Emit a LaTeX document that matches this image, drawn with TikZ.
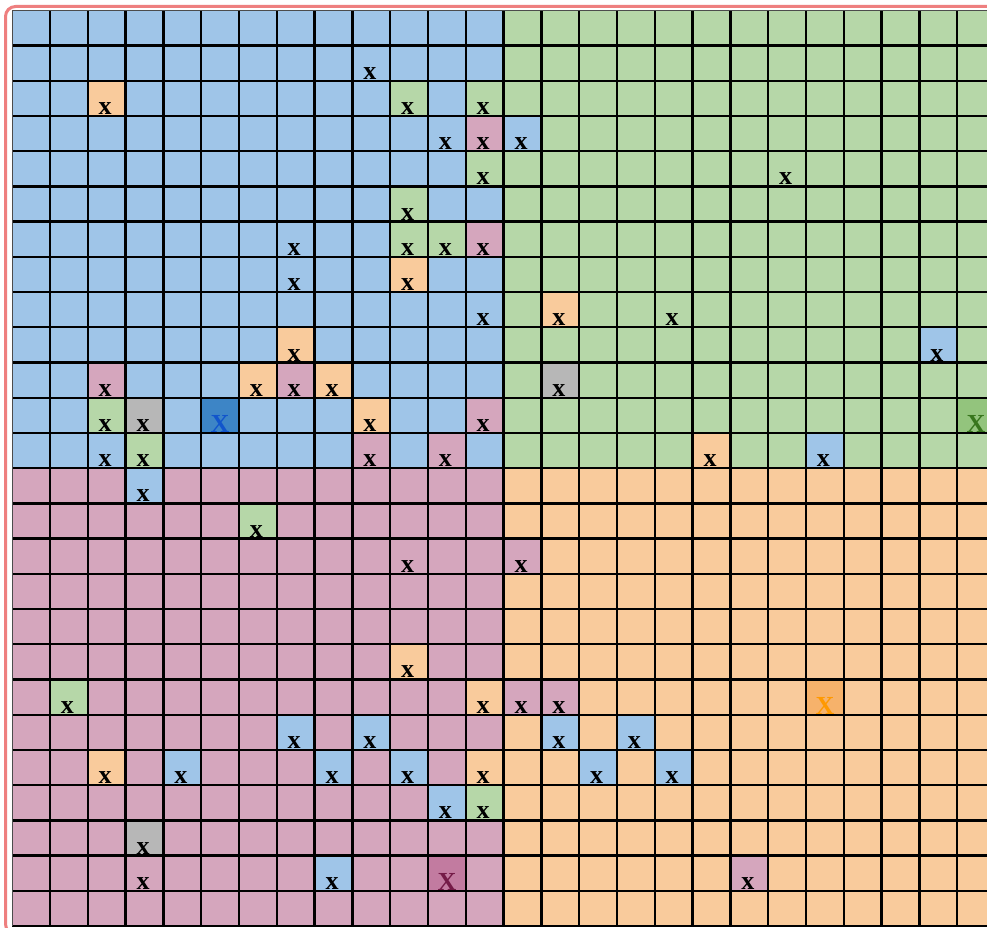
\documentclass[tikz,border=0pt]{standalone}
\usepackage{fontspec}
\newfontfamily\markfont{Liberation Serif}
\definecolor{qblue}{HTML}{9FC5E8}
\definecolor{qgreen}{HTML}{B6D7A8}
\definecolor{qpink}{HTML}{D5A6BD}
\definecolor{qorange}{HTML}{F9CB9C}
\definecolor{qgray}{HTML}{B7B7B7}
\definecolor{dblue}{HTML}{3D85C6}
\definecolor{dgreen}{HTML}{93C47D}
\definecolor{dpink}{HTML}{C27BA0}
\definecolor{dorange}{HTML}{F6B26B}
\definecolor{xblue}{HTML}{1155CC}
\definecolor{xgreen}{HTML}{38761D}
\definecolor{xpink}{HTML}{741B47}
\definecolor{xorange}{HTML}{FF9900}
\definecolor{redb}{HTML}{EE7F7F}
\newcommand{\cx}[1]{12.2+37.8*(#1)}
\newcommand{\cy}[1]{10.3+35.22*(#1)}
\begin{document}
\begin{tikzpicture}[x=1pt,y=-1pt,
  gridline/.style={black, line width=2.3},
  edgeline/.style={black!70, line width=1},
  xmark/.style={anchor=base, inner sep=0pt, font=\markfont\bfseries\fontsize{26}{26}\selectfont},
  bigmark/.style={anchor=base, inner sep=0pt, font=\markfont\bfseries\fontsize{26}{26}\selectfont}]
\useasboundingbox (0,0) rectangle (987,928);
\clip (0,0) rectangle (987,928);
\fill[white] (0,0) rectangle (987,928);
% quadrants
\fill[qblue]   ({\cx{0}},{\cy{0}}) rectangle ({\cx{13}},{\cy{13}});
\fill[qgreen]  ({\cx{13}},{\cy{0}}) rectangle ({\cx{26}},{\cy{13}});
\fill[qpink]   ({\cx{0}},{\cy{13}}) rectangle ({\cx{13}},{\cy{26}});
\fill[qorange] ({\cx{13}},{\cy{13}}) rectangle ({\cx{26}},{\cy{26}});
% coloured cells
\foreach \c/\r/\col in {
  2/2/qorange, 10/7/qorange, 14/8/qorange, 7/9/qorange, 6/10/qorange, 8/10/qorange,
  9/11/qorange, 18/12/qorange, 10/18/qorange, 12/19/qorange, 2/21/qorange, 12/21/qorange,
  10/2/qgreen, 12/2/qgreen, 12/4/qgreen, 10/5/qgreen, 10/6/qgreen, 11/6/qgreen,
  2/11/qgreen, 3/12/qgreen, 6/14/qgreen, 1/19/qgreen, 12/22/qgreen,
  12/3/qpink, 12/6/qpink, 2/10/qpink, 7/10/qpink, 12/11/qpink, 9/12/qpink,
  11/12/qpink, 13/15/qpink, 13/19/qpink, 14/19/qpink, 19/24/qpink,
  13/3/qblue, 24/9/qblue, 21/12/qblue, 3/13/qblue, 7/20/qblue, 9/20/qblue,
  14/20/qblue, 16/20/qblue, 4/21/qblue, 8/21/qblue, 10/21/qblue, 15/21/qblue,
  17/21/qblue, 11/22/qblue, 8/24/qblue,
  14/10/qgray, 3/11/qgray, 3/23/qgray,
  5/11/dblue, 25/11/dgreen, 21/19/dorange, 11/24/dpink}
  \fill[\col] ({\cx{\c}},{\cy{\r}}) rectangle ({\cx{\c+1}},{\cy{\r+1}});
% grid lines
\foreach \k in {1,...,25}
  \draw[gridline] ({\cx{\k}},{\cy{0}}) -- ({\cx{\k}},{\cy{26}});
\foreach \k in {1,...,26}
  \draw[gridline] ({\cx{0}},{\cy{\k}}) -- ({\cx{26}},{\cy{\k}});
\draw[edgeline] ({\cx{0}},{\cy{26}}) -- ({\cx{0}},{\cy{0}}) -- ({\cx{26}},{\cy{0}});
% small marks
\foreach \c/\r [count=\i] in {
  9/1, 2/2, 10/2, 12/2, 11/3, 12/3, 13/3, 12/4, 20/4, 10/5,
  7/6, 10/6, 11/6, 12/6, 7/7, 10/7, 12/8, 14/8, 17/8, 7/9, 24/9,
  2/10, 6/10, 7/10, 8/10, 14/10, 2/11, 3/11, 9/11, 12/11,
  2/12, 3/12, 9/12, 11/12, 18/12, 21/12, 3/13, 6/14, 10/15, 13/15,
  10/18, 1/19, 12/19, 13/19, 14/19, 7/20, 9/20, 14/20, 16/20,
  2/21, 4/21, 8/21, 10/21, 12/21, 15/21, 17/21, 11/22, 12/22,
  3/23, 3/24, 8/24, 19/24}
  \node[xmark] (m\i) at ({\cx{\c+0.5}-1.5},{\cy{\r+1}-1.5}) {x};
% big coloured marks
\node[bigmark, text=xblue]   (bX1) at ({\cx{5.5}},{\cy{12}-0.5}) {X};
\node[bigmark, text=xgreen]  (bX2) at ({\cx{25.5}},{\cy{12}-0.5}) {X};
\node[bigmark, text=xorange] (bX3) at ({\cx{21.5}},{\cy{20}-0.5}) {X};
\node[bigmark, text=xpink]   (bX4) at ({\cx{11.5}},{\cy{25}-0.5}) {X};
% outer focus border
\draw[redb, line width=3, rounded corners=10] (5.5,6.5) rectangle (1010,934);
\end{tikzpicture}
\end{document}
